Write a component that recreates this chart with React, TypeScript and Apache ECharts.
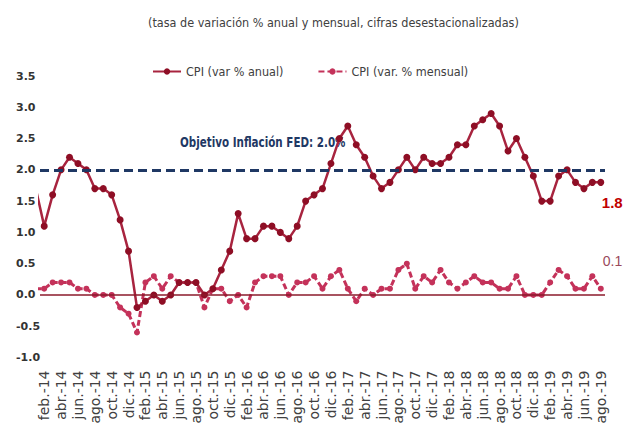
import React, { useEffect, useRef } from "react";
import * as echarts from "echarts";

// Tick labels shown on the x axis (every second month, Feb-14 .. Aug-19)
const tickLabels = [
  "feb.-14", "abr.-14", "jun.-14", "ago.-14", "oct.-14", "dic.-14",
  "feb.-15", "abr.-15", "jun.-15", "ago.-15", "oct.-15", "dic.-15",
  "feb.-16", "abr.-16", "jun.-16", "ago.-16", "oct.-16", "dic.-16",
  "feb.-17", "abr.-17", "jun.-17", "ago.-17", "oct.-17", "dic.-17",
  "feb.-18", "abr.-18", "jun.-18", "ago.-18", "oct.-18", "dic.-18",
  "feb.-19", "abr.-19", "jun.-19", "ago.-19",
];

// Monthly series, Jan-14 .. Aug-19 (index 0 = Jan-14)
const cpiAnnual = [
  1.7, 1.1, 1.6, 2.0, 2.2, 2.1, 2.0, 1.7, 1.7, 1.6, 1.2, 0.7,
  -0.2, -0.1, 0.0, -0.1, 0.0, 0.2, 0.2, 0.2, 0.0, 0.1, 0.4, 0.7,
  1.3, 0.9, 0.9, 1.1, 1.1, 1.0, 0.9, 1.1, 1.5, 1.6, 1.7, 2.1,
  2.5, 2.7, 2.4, 2.2, 1.9, 1.7, 1.8, 2.0, 2.2, 2.0, 2.2, 2.1,
  2.1, 2.2, 2.4, 2.4, 2.7, 2.8, 2.9, 2.7, 2.3, 2.5, 2.2, 1.9,
  1.5, 1.5, 1.9, 2.0, 1.8, 1.7, 1.8, 1.8,
];

const cpiMonthly = [
  0.1, 0.1, 0.2, 0.2, 0.2, 0.1, 0.1, 0.0, 0.0, 0.0, -0.2, -0.3,
  -0.6, 0.2, 0.3, 0.1, 0.3, 0.2, 0.2, 0.2, -0.2, 0.1, 0.1, -0.1,
  0.0, -0.2, 0.2, 0.3, 0.3, 0.3, 0.0, 0.2, 0.2, 0.3, 0.1, 0.3,
  0.4, 0.1, -0.1, 0.1, 0.0, 0.1, 0.1, 0.4, 0.5, 0.1, 0.3, 0.2,
  0.4, 0.2, 0.1, 0.2, 0.3, 0.2, 0.2, 0.1, 0.1, 0.3, 0.0, 0.0,
  0.0, 0.2, 0.4, 0.3, 0.1, 0.1, 0.3, 0.1,
];

const fedTarget = 2.0;

const yTicks = { min: -1.0, max: 3.5, step: 0.5 };

const SANS = "'DejaVu Sans', sans-serif";
const NARROW = "'DejaVu Sans Condensed', 'DejaVu Sans', sans-serif";
const ARIAL = "'Liberation Sans', Arial, sans-serif";

export default function App() {
  const ref = useRef<HTMLDivElement>(null);

  useEffect(() => {
    if (!ref.current) return;
    const chart = echarts.init(ref.current, null, { renderer: "svg" });

    const annualData = cpiAnnual.map((v, i) => [i, v]);
    const monthlyData = cpiMonthly.map((v, i) => [i, v]);
    const tickPositions = tickLabels.map((_, i) => 1 + 2 * i);
    const lastAnnual = cpiAnnual[cpiAnnual.length - 1];
    const lastMonthly = cpiMonthly[cpiMonthly.length - 1];

    chart.setOption({
      animation: false,
      backgroundColor: "#ffffff",
      title: {
        text: "(tasa de variación % anual y mensual, cifras desestacionalizadas)",
        left: 143,
        top: 11,
        textStyle: {
          fontFamily: NARROW,
          fontSize: 12.5,
          fontWeight: "normal",
          color: "#404040",
        },
      },
      legend: {
        left: 147,
        top: 60,
        itemGap: 34,
        itemWidth: 28,
        itemHeight: 8,
        textStyle: { fontFamily: NARROW, fontSize: 12.5, color: "#404040" },
        data: ["CPI (var % anual)", "CPI (var. % mensual)"],
      },
      grid: { left: 40, right: 19, top: 76, bottom: 76.5 },
      xAxis: {
        type: "value",
        min: 0.5,
        max: cpiAnnual.length - 0.5,
        axisLine: { show: false },
        axisTick: { show: false },
        splitLine: { show: false },
        axisLabel: {
          customValues: tickPositions,
          rotate: 90,
          margin: 13,
          fontFamily: SANS,
          fontSize: 14,
          color: "#404040",
          formatter: (v: number) => {
            const idx = Math.round((v - 1) / 2);
            return tickLabels[idx] ?? "";
          },
        },
      },
      yAxis: {
        type: "value",
        min: yTicks.min,
        max: yTicks.max,
        interval: yTicks.step,
        axisLine: { show: false },
        axisTick: { show: false },
        splitLine: { show: false },
        axisLabel: {
          align: "left",
          margin: 24,
          fontFamily: SANS,
          fontWeight: "bold",
          fontSize: 11,
          color: "#333333",
          formatter: (v: number) => v.toFixed(1),
        },
      },
      graphic: [
        {
          type: "text",
          x: 180,
          y: 135,
          scaleX: 0.74,
          style: {
            text: `Objetivo Inflación FED: ${fedTarget.toFixed(1)}%`,
            fontFamily: SANS,
            fontSize: 14,
            fontWeight: "bold",
            fill: "#1F3864",
          },
        },
      ],
      series: [
        {
          name: "CPI (var. % mensual)",
          type: "line",
          data: monthlyData,
          clip: true,
          symbol: "circle",
          symbolSize: 6,
          lineStyle: { color: "#C4325A", width: 3, type: [6, 3] },
          itemStyle: { color: "#C4325A" },
          endLabel: {
            show: true,
            formatter: () => lastMonthly.toFixed(1),
            offset: [-6, -28],
            fontFamily: ARIAL,
            fontSize: 14,
            color: "#9A4A5C",
          },
          z: 3,
        },
        {
          name: "CPI (var % anual)",
          type: "line",
          data: annualData,
          clip: true,
          symbol: "circle",
          symbolSize: 7,
          lineStyle: { color: "#A8243F", width: 2.5 },
          itemStyle: { color: "#8E0E25" },
          endLabel: {
            show: true,
            formatter: () => lastAnnual.toFixed(1),
            offset: [-7, 20],
            fontFamily: ARIAL,
            fontSize: 15,
            fontWeight: "bold",
            color: "#C00000",
          },
          markLine: {
            silent: true,
            symbol: "none",
            label: { show: false },
            data: [
              {
                yAxis: fedTarget,
                lineStyle: { color: "#1F3864", width: 3, type: [9, 5] },
              },
              {
                yAxis: 0,
                lineStyle: { color: "#8B1A2B", width: 1.5, type: "solid" },
              },
            ],
          },
          z: 4,
        },
      ],
    });

    return () => chart.dispose();
  }, []);

  return (
    <div
      ref={ref}
      style={{ position: "absolute", left: 0, top: 0, width: 624, height: 434 }}
    />
  );
}
